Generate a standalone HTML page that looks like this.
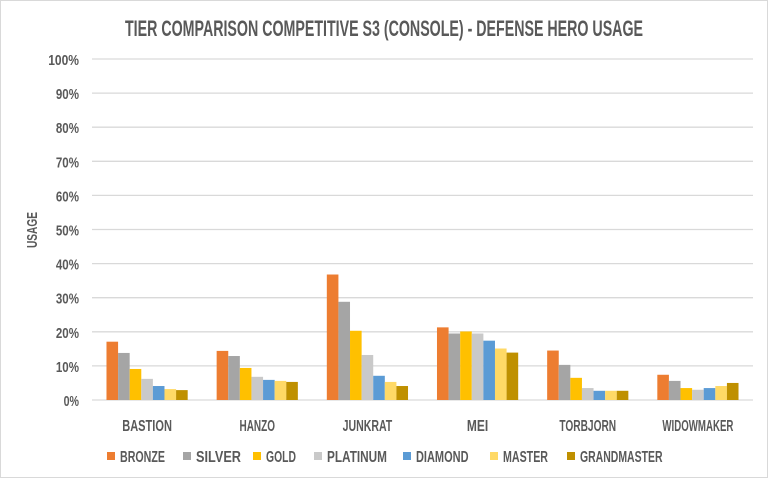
<!DOCTYPE html>
<html><head><meta charset="utf-8"><style>
body{margin:0;background:#fff}
svg{display:block;font-family:"Liberation Sans Narrow","Liberation Sans",sans-serif}
</style></head><body>
<svg id="chart" width="768" height="478" viewBox="0 0 768 478">
<rect x="0.5" y="0.5" width="767" height="477" fill="#fff" stroke="#d9d9d9"/>
<text x="384" y="36" text-anchor="middle" font-size="22" fill="#595959" font-weight="bold" textLength="518" lengthAdjust="spacingAndGlyphs">TIER COMPARISON COMPETITIVE S3 (CONSOLE) - DEFENSE HERO USAGE</text>
<text transform="translate(37,230) rotate(-90)" text-anchor="middle" font-size="15" font-weight="bold" fill="#595959" textLength="36" lengthAdjust="spacingAndGlyphs">USAGE</text>
<g id="grid"></g><g id="bars"></g><g id="xl"></g><g id="legend"></g>
</svg>
<script>
const categories=["BASTION","HANZO","JUNKRAT","MEI","TORBJORN","WIDOWMAKER"];
const seriesNames=["BRONZE","SILVER","GOLD","PLATINUM","DIAMOND","MASTER","GRANDMASTER"];
const bronze=[17.1,14.4,36.8,21.3,14.5,7.4];
const silver=[13.8,12.9,28.8,19.5,10.3,5.6];
const gold=[9.1,9.4,20.3,20.1,6.5,3.5];
const platinum=[6.2,6.8,13.2,19.5,3.5,3.0];
const diamond=[4.1,5.9,7.1,17.4,2.7,3.5];
const master=[3.2,5.6,5.3,15.1,2.7,4.1];
const grandmaster=[2.9,5.3,4.1,13.9,2.7,5.0];
const yTicks=[0,10,20,30,40,50,60,70,80,90,100];
const series=[bronze,silver,gold,platinum,diamond,master,grandmaster];
const colors=["#ed7d31","#a5a5a5","#ffc000","#c9c9c9","#5b9bd5","#ffd966","#bf9000"];
const NS="http://www.w3.org/2000/svg";
const L=92,R=753,T=59,B=400;
const y=v=>B-(v/100)*(B-T);
const gw=(R-L)/categories.length, bw=11.6;
function mk(tag,attrs,parent,txt){const e=document.createElementNS(NS,tag);for(const k in attrs)e.setAttribute(k,attrs[k]);if(txt!==undefined)e.textContent=txt;document.getElementById(parent).appendChild(e);return e;}
yTicks.forEach(t=>{
 const l=mk('line',{x1:L,x2:R,y1:y(t),y2:y(t),stroke:'#d9d9d9','stroke-width':1.3},'grid');
 
 
 const s=t+'%';
 const tx=mk('text',{x:79,y:y(t)+6,'text-anchor':'end','font-size':15,'font-weight':'bold',fill:'#595959',textLength:s.length*7.7,lengthAdjust:'spacingAndGlyphs'},'grid',s);
 
 
});
categories.forEach((c,i)=>{
 const x0=L+i*gw+(gw-bw*7)/2;
 series.forEach((s,j)=>{
  const r=mk('rect',{x:x0+j*bw,y:y(s[i]),width:bw,height:B-y(s[i]),fill:colors[j]},'bars');
  
  
 });
 const t=mk('text',{x:L+i*gw+gw/2,y:431,'text-anchor':'middle','font-size':16,'font-weight':'bold',fill:'#595959',textLength:c.length*7.1,lengthAdjust:'spacingAndGlyphs'},'xl',c);
 
 
});
const lx=[107,183,253,314,403,490,567];
seriesNames.forEach((n,j)=>{
 const r=mk('rect',{x:lx[j],y:452,width:8,height:8,fill:colors[j]},'legend');
 
 
 const t=mk('text',{x:lx[j]+13,y:462,'font-size':16,'font-weight':'bold',fill:'#595959',textLength:n.length*7.5,lengthAdjust:'spacingAndGlyphs'},'legend',n);
 
 
});
</script>
</body></html>
